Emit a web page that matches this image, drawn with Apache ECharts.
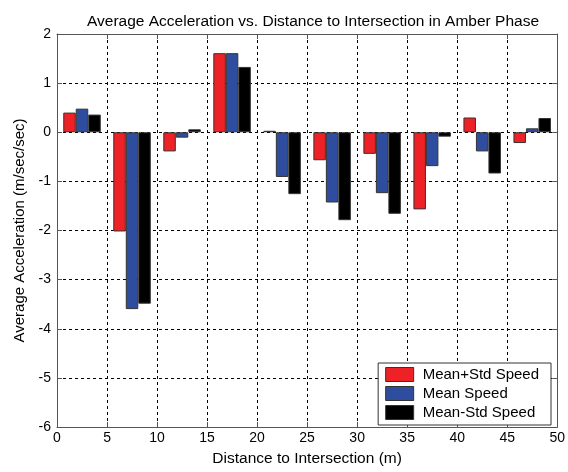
<!DOCTYPE html>
<html>
<head>
<meta charset="utf-8">
<script src="https://cdn.jsdelivr.net/npm/echarts@6/dist/echarts.min.js"></script>
<style>
  html, body { margin: 0; padding: 0; background: #fff; }
  #chart { width: 568px; height: 472px; }
</style>
</head>
<body>
<div id="chart"></div>
<script>
// Bin centres along the approach (m) and the mean acceleration for each speed group
const distances = [2.5, 7.5, 12.5, 17.5, 22.5, 27.5, 32.5, 37.5, 42.5, 47.5];
const meanPlusStd = [0.40, -2.02, -0.39, 1.61, 0.03, -0.57, -0.44, -1.57, 0.30, -0.22];
const meanSpeed = [0.48, -3.60, -0.11, 1.61, -0.91, -1.43, -1.24, -0.69, -0.39, 0.08];
const meanMinusStd = [0.36, -3.49, 0.06, 1.33, -1.26, -1.79, -1.66, -0.09, -0.84, 0.29];
const seriesNames = ['Mean+Std Speed', 'Mean Speed', 'Mean-Std Speed'];
const seriesColors = ['#ee2226', '#2e4d9f', '#000000'];

const font = 'Liberation Sans, Arial, sans-serif';
const chart = echarts.init(document.getElementById('chart'), null, { renderer: 'canvas' });

const gridLine = { show: true, lineStyle: { color: '#000', type: [3, 3], width: 1 } };
const axisLine = { show: true, onZero: false, lineStyle: { color: '#555', width: 1 } };
const tickIn = { show: true, inside: true, length: 5, lineStyle: { color: '#555' } };

function makeSeries(name, values, color) {
  return {
    name: name,
    type: 'bar',
    xAxisIndex: 0,
    yAxisIndex: 0,
    barWidth: 12.5,
    barGap: '0%',
    itemStyle: { color: color, borderColor: '#333', borderWidth: 1 },
    emphasis: { disabled: true },
    data: distances.map((d, i) => [d, values[i]])
  };
}

chart.setOption({
  animation: false,
  backgroundColor: '#fff',
  title: {
    text: 'Average Acceleration vs. Distance to Intersection in Amber Phase',
    left: 82,
    top: 9,
    textStyle: { fontFamily: font, fontSize: 15.5, fontWeight: 'normal', color: '#000' }
  },
  legend: {
    data: seriesNames,
    orient: 'vertical',
    right: 17,
    bottom: 47,
    itemWidth: 28,
    itemHeight: 14,
    itemGap: 4,
    padding: [4, 12, 5, 7],
    backgroundColor: '#fff',
    borderColor: '#333',
    borderWidth: 1,
    borderRadius: 0,
    icon: 'rect',
    itemStyle: { borderColor: '#333', borderWidth: 1 },
    textStyle: { fontFamily: font, fontSize: 15, color: '#000', padding: [0, 0, 0, 4] }
  },
  grid: { left: 57, right: 10, top: 34, bottom: 41, containLabel: false },
  xAxis: [
    {
      type: 'value', min: 0, max: 50, interval: 5,
      name: 'Distance to Intersection (m)',
      nameLocation: 'middle', nameGap: 24,
      nameTextStyle: { fontFamily: font, fontSize: 15.5, color: '#000' },
      axisLine: axisLine, axisTick: tickIn, splitLine: gridLine,
      axisLabel: { fontFamily: font, fontSize: 14, color: '#000', margin: 4 }
    },
    {
      type: 'value', min: 0, max: 50, interval: 5, position: 'top',
      axisLine: axisLine, axisTick: tickIn, splitLine: { show: false },
      axisLabel: { show: false }
    }
  ],
  yAxis: [
    {
      type: 'value', min: -6, max: 2, interval: 1,
      name: 'Average Acceleration (m/sec/sec)',
      nameLocation: 'middle', nameGap: 30, nameRotate: 90,
      nameTextStyle: { fontFamily: font, fontSize: 15, color: '#000' },
      axisLine: axisLine, axisTick: tickIn, splitLine: gridLine,
      axisLabel: { fontFamily: font, fontSize: 14, color: '#000', margin: 6 }
    },
    {
      type: 'value', min: -6, max: 2, interval: 1, position: 'right',
      axisLine: axisLine, axisTick: tickIn, splitLine: { show: false },
      axisLabel: { show: false }
    }
  ],
  series: [
    makeSeries(seriesNames[0], meanPlusStd, seriesColors[0]),
    makeSeries(seriesNames[1], meanSpeed, seriesColors[1]),
    makeSeries(seriesNames[2], meanMinusStd, seriesColors[2])
  ]
});
</script>
</body>
</html>
